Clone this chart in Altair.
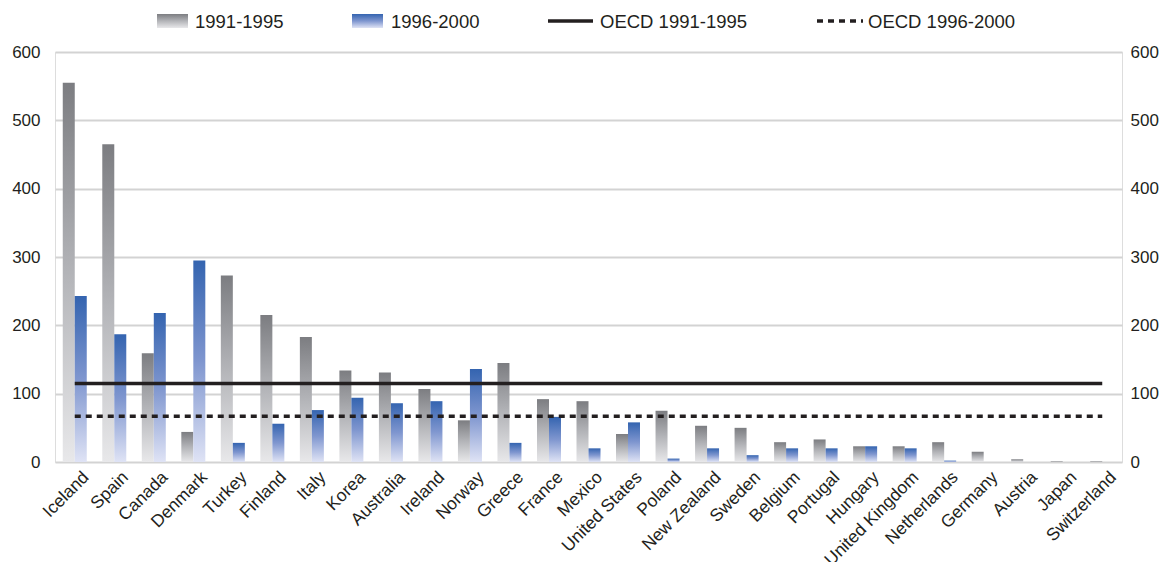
import altair as alt
import pandas as pd

countries = ["Iceland", "Spain", "Canada", "Denmark", "Turkey", "Finland", "Italy", "Korea",
             "Australia", "Ireland", "Norway", "Greece", "France", "Mexico", "United States",
             "Poland", "New Zealand", "Sweden", "Belgium", "Portugal", "Hungary",
             "United Kingdom", "Netherlands", "Germany", "Austria", "Japan", "Switzerland"]
v_1991_1995 = [555, 465, 159, 44, 273, 215, 183, 134, 131, 107, 61, 145, 92, 89, 41,
               75, 53, 50, 29, 33, 23, 23, 29, 15, 4, 1, 1]
v_1996_2000 = [243, 187, 218, 295, 28, 56, 76, 94, 86, 89, 136, 28, 66, 20, 58,
               5, 20, 10, 20, 20, 23, 20, 2, 0, 0, 0, 0]
oecd_1991_1995 = 115
oecd_1996_2000 = 67
y_ticks = [0, 100, 200, 300, 400, 500, 600]
legend_labels = ["1991-1995", "1996-2000", "OECD 1991-1995", "OECD 1996-2000"]

df = pd.DataFrame({"country": countries, "a": v_1991_1995, "b": v_1996_2000})
lines = pd.DataFrame({"country": [countries[0], countries[-1]],
                      "a": [oecd_1991_1995] * 2, "b": [oecd_1996_2000] * 2})

W, H = 1067, 410
FONT = "Liberation Sans"
TXT = "#231f20"

gray_grad = alt.Gradient(gradient="linear",
                         stops=[alt.GradientStop(color="#7c7d81", offset=0),
                                alt.GradientStop(color="#b3b4b8", offset=0.5),
                                alt.GradientStop(color="#e8e8ea", offset=1)],
                         x1=0, x2=0, y1=0, y2=1)
blue_grad = alt.Gradient(gradient="linear",
                         stops=[alt.GradientStop(color="#3464b0", offset=0),
                                alt.GradientStop(color="#7f96cf", offset=0.5),
                                alt.GradientStop(color="#dfe3f5", offset=1)],
                         x1=0, x2=0, y1=0, y2=1)

xenc = alt.X("country:N", sort=countries,
             scale=alt.Scale(paddingInner=0, paddingOuter=0),
             axis=alt.Axis(title=None, labelAngle=-45, labelFontSize=17.5, labelPadding=6,
                           labelOffset=5,
                           domain=False, ticks=False, labelFont=FONT, labelColor=TXT,
                           labelOverlap=False))
yscale = alt.Scale(domain=[0, 600], nice=False)
common_axis = dict(title=None, values=y_ticks, domain=False, ticks=False,
                   labelFontSize=17, labelFont=FONT, labelColor=TXT)
yaxis_left = alt.Axis(orient="left", grid=True, gridColor="#d3d3d3", gridWidth=2,
                      labelPadding=15, **common_axis)
yaxis_right = alt.Axis(orient="right", grid=False, labelPadding=8, **common_axis)

base = alt.Chart(df)
gray = base.mark_bar(width=12, xOffset=-6, color=gray_grad).encode(
    x=xenc, y=alt.Y("a:Q", scale=yscale, axis=yaxis_left))
blue = base.mark_bar(width=12, xOffset=6, color=blue_grad).encode(
    x=xenc, y=alt.Y("b:Q", scale=yscale, axis=yaxis_right))

line_a = alt.Chart(lines).mark_line(color="#231f20", strokeWidth=3.5).encode(
    x=xenc, y=alt.Y("a:Q", scale=yscale, axis=None))
line_b = alt.Chart(lines).mark_line(color="#231f20", strokeWidth=3.5, strokeDash=[6, 5]).encode(
    x=xenc, y=alt.Y("b:Q", scale=yscale, axis=None))

# legend
def one(label):
    return pd.DataFrame({"label": [label]})

def leg_text(label, x):
    return alt.Chart(one(label)).mark_text(align="left", baseline="middle", fontSize=18.5,
                                           font=FONT, color=TXT).encode(
        x=alt.value(x), y=alt.value(-30), text="label:N")

sw_gray = alt.Chart(one(legend_labels[0])).mark_rect(color=gray_grad).encode(
    x=alt.value(102), x2=alt.value(133), y=alt.value(-38), y2=alt.value(-24))
sw_blue = alt.Chart(one(legend_labels[1])).mark_rect(color=blue_grad).encode(
    x=alt.value(297), x2=alt.value(328), y=alt.value(-38), y2=alt.value(-24))
lg_solid = alt.Chart(one(legend_labels[2])).mark_rule(color="#231f20", strokeWidth=3.5).encode(
    x=alt.value(493), x2=alt.value(538), y=alt.value(-31))
lg_dot = alt.Chart(one(legend_labels[3])).mark_rule(color="#231f20", strokeWidth=3.5,
                                                    strokeDash=[6, 5]).encode(
    x=alt.value(762), x2=alt.value(808), y=alt.value(-31))

chart = alt.layer(
    gray, blue, line_a, line_b,
    sw_gray, leg_text(legend_labels[0], 140),
    sw_blue, leg_text(legend_labels[1], 336),
    lg_solid, leg_text(legend_labels[2], 545),
    lg_dot, leg_text(legend_labels[3], 813),
).resolve_axis(y="independent").properties(
    width=W, height=H,
    autosize=alt.AutoSizeParams(type="none"),
    padding={"left": 47, "top": 44, "right": 37, "bottom": 100},
).configure_view(stroke=None).configure(background="white")

chart.save("out.html", embed_options={"renderer": "svg", "actions": False})
